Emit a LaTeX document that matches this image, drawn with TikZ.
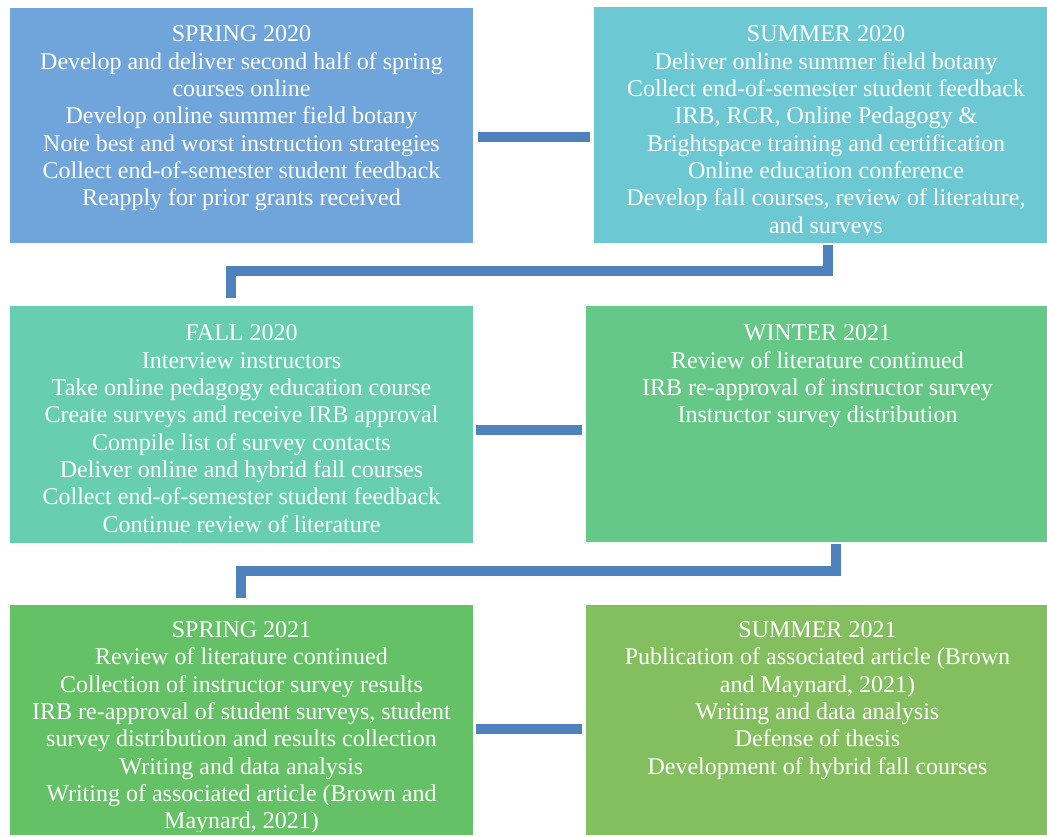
\documentclass[tikz,border=0pt]{standalone}
\usepackage{fontspec}
\setmainfont{Liberation Serif}
\usetikzlibrary{calc}
\definecolor{cA}{HTML}{6FA5DA}
\definecolor{cB}{HTML}{6CC9D3}
\definecolor{cC}{HTML}{67CFB0}
\definecolor{cD}{HTML}{66C886}
\definecolor{cE}{HTML}{64C165}
\definecolor{cF}{HTML}{84BF5F}
\definecolor{connc}{HTML}{4F81BD}
\tikzset{
  box/.style={rectangle, draw=none, inner sep=0pt, outer sep=0pt},
  txt/.style={anchor=north, inner sep=0pt, outer sep=0pt, align=center, text=white,
    font=\fontsize{18pt}{20.5pt}\selectfont},
  conn/.style={draw=connc, line width=7.5pt, line cap=butt, line join=miter}
}
\begin{document}
\begin{tikzpicture}[x=0.75pt,y=-0.75pt]
\useasboundingbox (0,0) rectangle (1047,837);
% boxes
\node[box, fill=cA, minimum width=463*0.75pt, minimum height=235*0.75pt] (b1) at (241.5,125.5) {};
\node[box, fill=cB, minimum width=453*0.75pt, minimum height=236*0.75pt] (b2) at (820.5,125) {};
\node[box, fill=cC, minimum width=463*0.75pt, minimum height=237*0.75pt] (b3) at (241.5,424.5) {};
\node[box, fill=cD, minimum width=461*0.75pt, minimum height=236*0.75pt] (b4) at (816.5,424) {};
\node[box, fill=cE, minimum width=463*0.75pt, minimum height=230*0.75pt] (b5) at (241.5,720) {};
\node[box, fill=cF, minimum width=461*0.75pt, minimum height=230*0.75pt] (b6) at (816.5,720) {};
% texts
\begin{scope}
\clip (b1.north west) rectangle ($(b1.south east)+(0,-5)$);
\node[txt] (t1) at ($(b1.north)+(0,18)$) {SPRING 2020\\Develop and deliver second half of spring\\courses online\\Develop online summer field botany\\Note best and worst instruction strategies\\Collect end-of-semester student feedback\\Reapply for prior grants received};
\end{scope}
\begin{scope}
\clip (b2.north west) rectangle ($(b2.south east)+(0,-7.5)$);
\node[txt] (t2) at ($(b2.north)+(5.5,19)$) {SUMMER 2020\\Deliver online summer field botany\\Collect end-of-semester student feedback\\IRB, RCR, Online Pedagogy \&\\Brightspace training and certification\\Online education conference\\Develop fall courses, review of literature,\\and surveys};
\end{scope}
\begin{scope}
\clip (b3.north west) rectangle ($(b3.south east)+(0,-4)$);
\node[txt] (t3) at ($(b3.north)+(0,19)$) {FALL 2020\\Interview instructors\\Take online pedagogy education course\\Create surveys and receive IRB approval\\Compile list of survey contacts\\Deliver online and hybrid fall courses\\Collect end-of-semester student feedback\\Continue review of literature};
\end{scope}
\begin{scope}
\clip (b4.north west) rectangle ($(b4.south east)+(0,-4)$);
\node[txt] (t4) at ($(b4.north)+(1,19)$) {WINTER 2021\\Review of literature continued\\IRB re-approval of instructor survey\\Instructor survey distribution};
\end{scope}
\begin{scope}
\clip (b5.north west) rectangle ($(b5.south east)+(0,-4)$);
\node[txt] (t5) at ($(b5.north)+(0,16.5)$) {SPRING 2021\\Review of literature continued\\Collection of instructor survey results\\IRB re-approval of student surveys, student\\survey distribution and results collection\\Writing and data analysis\\Writing of associated article (Brown and\\Maynard, 2021)};
\end{scope}
\begin{scope}
\clip (b6.north west) rectangle ($(b6.south east)+(0,-4)$);
\node[txt] (t6) at ($(b6.north)+(1,16.5)$) {SUMMER 2021\\Publication of associated article (Brown\\and Maynard, 2021)\\Writing and data analysis\\Defense of thesis\\Development of hybrid fall courses};
\end{scope}
% connectors
\draw[conn] ($(b1.east)+(5,11.5)$) -- ($(b2.west)+(-4,12)$);
\draw[conn] ($(b2.south)+(7,2)$) |- ($(b3.north)+(-10.5,-34.5)$) -- ($(b3.north)+(-10.5,-8)$);
\draw[conn] ($(b3.east)+(3,5.5)$) -- ($(b4.west)+(-4,6)$);
\draw[conn] ($(b4.south)+(19,2)$) |- ($(b5.north)+(-1,-34)$) -- ($(b5.north)+(-1,-7)$);
\draw[conn] ($(b5.east)+(3,9)$) -- ($(b6.west)+(-4,9)$);
\end{tikzpicture}
\end{document}
